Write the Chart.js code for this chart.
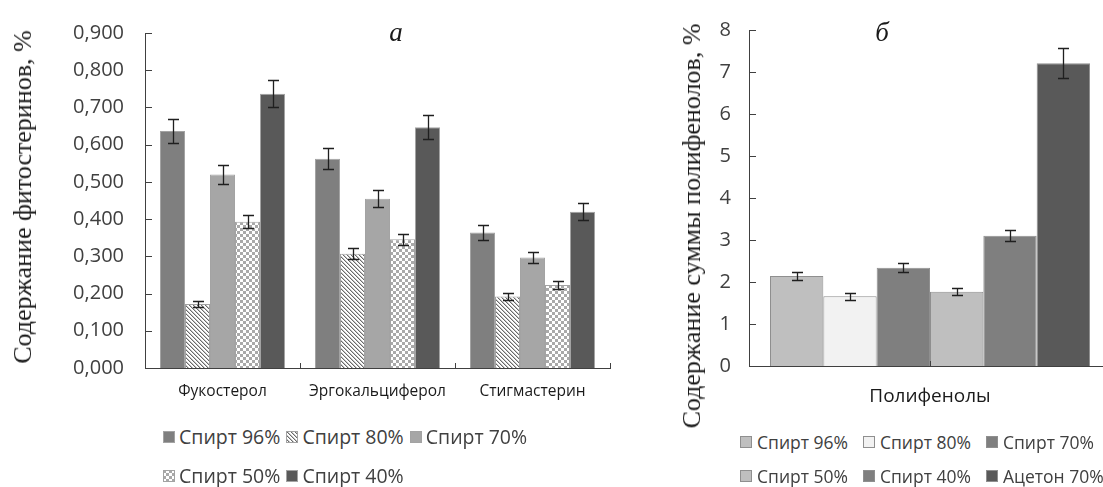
<!DOCTYPE html>
<html>
<head>
<meta charset="utf-8">
<script src="https://cdn.jsdelivr.net/npm/chart.js@4.4.1/dist/chart.umd.min.js"></script>
<style>
  html, body { margin: 0; padding: 0; background: #fff; overflow: hidden; width: 1103px; height: 487px; }
  canvas { position: absolute; top: 0; }
  #sterolCanvas { left: 0; }
  #phenolCanvas { left: 670px; }
  .axisTitle { position: absolute; font-family: "Liberation Serif", "DejaVu Serif", serif; font-size: 26px; color: #1a1a1a;
               white-space: nowrap; transform: translate(-50%, -50%) rotate(-90deg); }
  .panelMark { position: absolute; font-family: "Liberation Serif", serif; font-style: italic; font-size: 27px; color: #1a1a1a;
               transform: translate(-50%, -50%); }
  .legend { position: absolute; display: flex; flex-wrap: wrap; font-family: "Open Sans", sans-serif; color: #404040; }
  .legend .item { display: flex; align-items: center; white-space: nowrap; }
  .legend canvas { position: static; display: block; }
</style>
</head>
<body>
<canvas id="sterolCanvas" width="625" height="420"></canvas>
<canvas id="phenolCanvas" width="455" height="420"></canvas>

<div class="axisTitle" style="left:23px; top:197px;">Содержание фитостеринов, %</div>
<div class="axisTitle" style="left:692px; top:226px;">Содержание суммы полифенолов, %</div>
<div class="panelMark" style="left:396px; top:32px;">а</div>
<div class="panelMark" style="left:882px; top:32px;">б</div>

<div id="sterolLegend" class="legend" style="left:163px; top:423px; width:410px; row-gap:12px; column-gap:6px; font-size:19.5px;"></div>
<div id="phenolLegend" class="legend" style="left:740px; top:430px; width:400px; row-gap:10px; column-gap:15px; font-size:17.5px;"></div>

<script>
// ---- Phytosterol content by extractant (panel а) ----
const sterolCategories = ['Фукостерол', 'Эргокальциферол', 'Стигмастерин'];
const sterolSeries = ['Спирт 96%', 'Спирт 80%', 'Спирт 70%', 'Спирт 50%', 'Спирт 40%'];
const sterol96 = [0.637, 0.562, 0.364];
const sterol80 = [0.172, 0.307, 0.192];
const sterol70 = [0.520, 0.455, 0.297];
const sterol50 = [0.393, 0.346, 0.223];
const sterol40 = [0.737, 0.647, 0.420];
const sterolErr96 = [0.032, 0.028, 0.020];
const sterolErr80 = [0.008, 0.015, 0.009];
const sterolErr70 = [0.025, 0.022, 0.014];
const sterolErr50 = [0.018, 0.015, 0.012];
const sterolErr40 = [0.036, 0.033, 0.022];
const sterolTickLabels = ['0,000', '0,100', '0,200', '0,300', '0,400', '0,500', '0,600', '0,700', '0,800', '0,900'];

// ---- Total polyphenol content by extractant (panel б) ----
const phenolCategories = ['Полифенолы'];
const phenolSeries = ['Спирт 96%', 'Спирт 80%', 'Спирт 70%', 'Спирт 50%', 'Спирт 40%', 'Ацетон 70%'];
const phenolValues = [2.14, 1.66, 2.34, 1.77, 3.10, 7.21];
const phenolErrors = [0.10, 0.08, 0.11, 0.08, 0.13, 0.36];
const phenolTickLabels = ['0', '1', '2', '3', '4', '5', '6', '7', '8'];

// Fill patterns
function makeStripes() {
  const c = document.createElement('canvas'); c.width = 4; c.height = 4;
  const g = c.getContext('2d');
  g.fillStyle = '#ffffff'; g.fillRect(0, 0, 4, 4);
  for (let i = 0; i < 4; i++) {
    g.fillStyle = '#6a6a6a'; g.fillRect(i, i, 1, 1);
    g.fillStyle = '#c4c4c4'; g.fillRect((i + 1) % 4, i, 1, 1);
  }
  return g.createPattern(c, 'repeat');
}
function makeChecks() {
  const c = document.createElement('canvas'); c.width = 6; c.height = 6;
  const g = c.getContext('2d');
  g.fillStyle = '#ffffff'; g.fillRect(0, 0, 6, 6);
  g.fillStyle = '#a9a9a9'; g.fillRect(0, 0, 3, 3); g.fillRect(3, 3, 3, 3);
  return g.createPattern(c, 'repeat');
}
const stripes = makeStripes();
const checks = makeChecks();

const sterolFills = ['#7f7f7f', stripes, '#a6a6a6', checks, '#595959'];
const phenolFills = ['#bfbfbf', '#f2f2f2', '#7f7f7f', '#bfbfbf', '#7f7f7f', '#595959'];

// Error bars drawn from each dataset's `errors` array
const errorBars = {
  id: 'errorBars',
  afterDatasetsDraw(chart, args, opts) {
    const ctx = chart.ctx, y = chart.scales.y;
    ctx.save();
    ctx.strokeStyle = '#1f1f1f';
    ctx.lineWidth = 1.3;
    chart.data.datasets.forEach((ds, i) => {
      chart.getDatasetMeta(i).data.forEach((bar, j) => {
        const v = ds.data[j], e = ds.errors[j];
        const top = Math.round(y.getPixelForValue(v + e)) + 0.5;
        const bot = Math.round(y.getPixelForValue(v - e)) + 0.5;
        const x = Math.round(bar.x) + 0.5;
        ctx.beginPath();
        ctx.moveTo(x, top); ctx.lineTo(x, bot);
        ctx.moveTo(x - opts.cap, top); ctx.lineTo(x + opts.cap, top);
        ctx.moveTo(x - opts.cap, bot); ctx.lineTo(x + opts.cap, bot);
        ctx.stroke();
      });
    });
    ctx.restore();
  }
};

// Short tick marks pointing into the plot area
const innerTicks = {
  id: 'innerTicks',
  afterDraw(chart, args, opts) {
    const ctx = chart.ctx, a = chart.chartArea, x = chart.scales.x, y = chart.scales.y;
    ctx.save();
    ctx.strokeStyle = '#404040';
    ctx.lineWidth = 1;
    ctx.beginPath();
    y.ticks.forEach(t => {
      const py = Math.round(y.getPixelForValue(t.value)) + 0.5;
      ctx.moveTo(a.left, py); ctx.lineTo(a.left + 7, py);
    });
    const n = chart.data.labels.length;
    const xs = [];
    if (opts.mode === 'between') { for (let i = 0; i <= n; i++) xs.push(x.getPixelForValue(i - 0.5)); }
    else { for (let i = 0; i < n; i++) xs.push(x.getPixelForValue(i)); }
    xs.forEach(px => {
      const p = Math.round(px) + 0.5;
      ctx.moveTo(p, a.bottom); ctx.lineTo(p, a.bottom - 5);
    });
    ctx.stroke();
    ctx.restore();
  }
};

Chart.defaults.font.family = '"Open Sans", sans-serif';
Chart.defaults.color = '#404040';

function axisBorder() { return { display: true, color: '#404040', width: 1 }; }

// Panel а
const sterolValues = [sterol96, sterol80, sterol70, sterol50, sterol40];
const sterolErrors = [sterolErr96, sterolErr80, sterolErr70, sterolErr50, sterolErr40];
new Chart(document.getElementById('sterolCanvas'), {
  type: 'bar',
  data: {
    labels: sterolCategories,
    datasets: sterolSeries.map((name, i) => ({
      label: name,
      data: sterolValues[i],
      errors: sterolErrors[i],
      backgroundColor: sterolFills[i],
      borderColor: '#a3a3a3',
      borderWidth: 1,
      categoryPercentage: 125 / 155,
      barPercentage: 1.0
    }))
  },
  options: {
    responsive: false, animation: false, devicePixelRatio: 1,
    layout: { padding: { top: 24, right: 15, left: 0, bottom: 0 } },
    plugins: { legend: { display: false }, tooltip: { enabled: false }, errorBars: { cap: 5.5 }, innerTicks: { mode: 'between' } },
    scales: {
      x: {
        grid: { display: false, drawTicks: false },
        border: axisBorder(),
        ticks: { font: { size: 15.5 }, padding: 14, color: '#1a1a1a' },
        afterFit(s) { s.height = 52; }
      },
      y: {
        min: 0, max: 0.9,
        grid: { display: false, drawTicks: false },
        border: axisBorder(),
        ticks: { stepSize: 0.1, font: { size: 20 }, padding: 21, color: '#404040',
                 callback: (v, i) => sterolTickLabels[i] },
        afterFit(s) { s.width = 145; }
      }
    }
  },
  plugins: [errorBars, innerTicks]
});

// Panel б
new Chart(document.getElementById('phenolCanvas'), {
  type: 'bar',
  data: {
    labels: phenolCategories,
    datasets: phenolSeries.map((name, i) => ({
      label: name,
      data: [phenolValues[i]],
      errors: [phenolErrors[i]],
      backgroundColor: phenolFills[i],
      borderColor: '#8f8f8f',
      borderWidth: 1,
      categoryPercentage: 320 / 362,
      barPercentage: 1.0
    }))
  },
  options: {
    responsive: false, animation: false, devicePixelRatio: 1,
    layout: { padding: { top: 24, right: 14, left: 0, bottom: 0 } },
    plugins: { legend: { display: false }, tooltip: { enabled: false }, errorBars: { cap: 5.5 }, innerTicks: { mode: 'center' } },
    scales: {
      x: {
        grid: { display: false, drawTicks: false },
        border: axisBorder(),
        ticks: { font: { size: 19 }, padding: 19, color: '#1a1a1a' },
        afterFit(s) { s.height = 54; }
      },
      y: {
        min: 0, max: 8,
        grid: { display: false, drawTicks: false },
        border: axisBorder(),
        ticks: { stepSize: 1, font: { size: 20 }, padding: 18, color: '#404040',
                 callback: (v, i) => phenolTickLabels[i] },
        afterFit(s) { s.width = 79; }
      }
    }
  },
  plugins: [errorBars, innerTicks]
});

// HTML legends built from the series lists
function buildLegend(el, names, fills, border, size, gap) {
  names.forEach((name, i) => {
    const item = document.createElement('div'); item.className = 'item';
    const sw = document.createElement('canvas'); sw.width = size; sw.height = size;
    const g = sw.getContext('2d');
    g.fillStyle = fills[i]; g.fillRect(0, 0, size, size);
    g.strokeStyle = border; g.lineWidth = 1; g.strokeRect(0.5, 0.5, size - 1, size - 1);
    sw.style.marginRight = gap + 'px';
    const tx = document.createElement('span'); tx.textContent = name;
    item.appendChild(sw); item.appendChild(tx);
    el.appendChild(item);
  });
}
buildLegend(document.getElementById('sterolLegend'), sterolSeries, sterolFills, '#a3a3a3', 12, 4);
buildLegend(document.getElementById('phenolLegend'), phenolSeries, phenolFills, '#8f8f8f', 12, 5);
</script>
</body>
</html>
